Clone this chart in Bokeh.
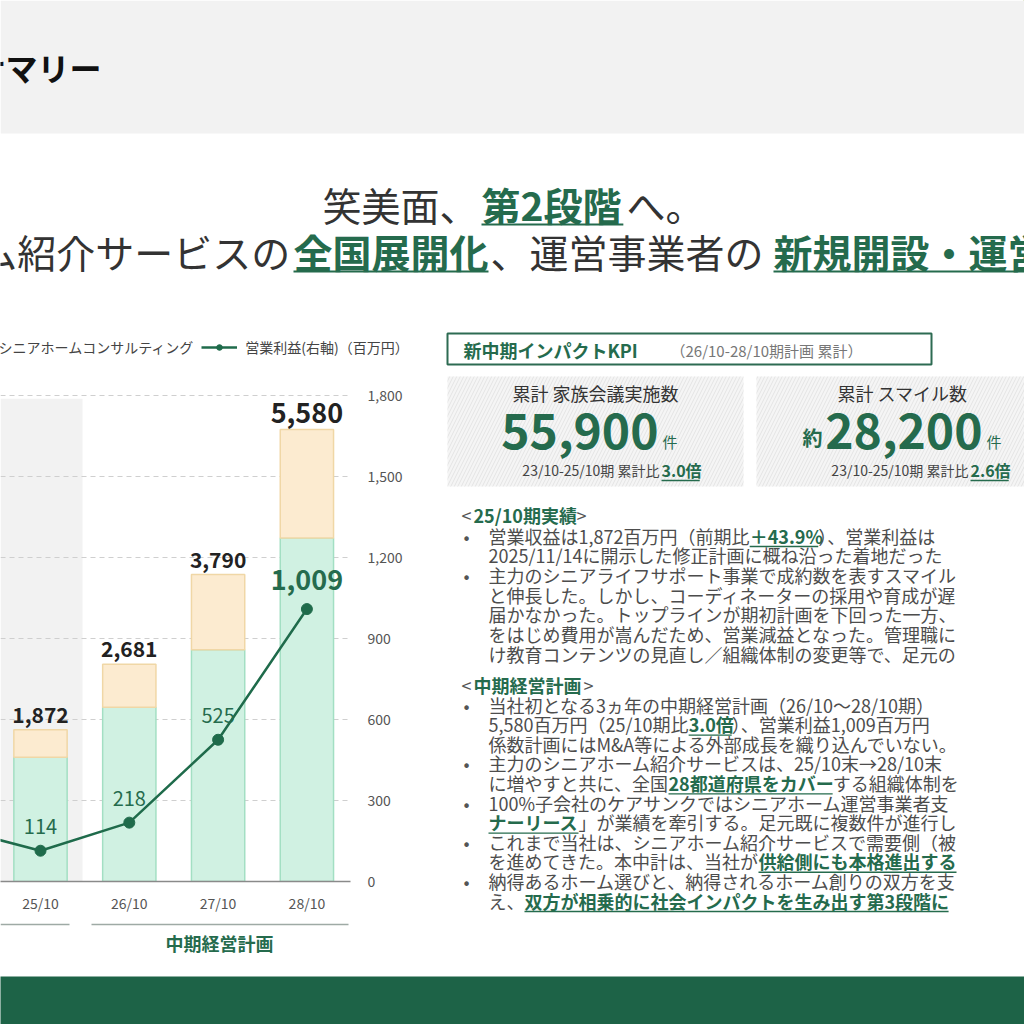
from bokeh.plotting import figure
from bokeh.layouts import column, row
from bokeh.models import (ColumnDataSource, Range1d, LinearAxis, FixedTicker, NumeralTickFormatter,
                          BoxAnnotation, Label, Legend, LegendItem)
from bokeh.core.properties import value
from bokeh.embed import file_html
from bokeh.resources import INLINE

# ---------------- data ----------------
all_periods = ["24/10", "25/10", "26/10", "27/10", "28/10"]
bar_periods = ["25/10", "26/10", "27/10", "28/10"]
referral = [1535, 2150, 2860, 4240]        # シニアホーム紹介 (百万円)
consulting = [337, 531, 930, 1340]         # シニアホームコンサルティング (百万円)
revenue_total = [1872, 2681, 3790, 5580]   # 営業収益 (百万円)
op_profit = [200, 114, 218, 525, 1009]     # 営業利益 (右軸, 百万円)
right_ticks = [0, 300, 600, 900, 1200, 1500, 1800]
left_max = 6000
series_names = ["シニアホーム紹介", "シニアホームコンサルティング", "営業利益(右軸)（百万円）"]

FONT = "Noto Sans CJK JP"
GREEN = "#1f6b4b"
GREEN_T = "#256b4d"
GRAY_T = "#4d4d4d"
MINT, MINT_L = "#d0f1e2", "#a3dfc3"
BEIGE, BEIGE_L = "#fcebd0", "#f0d7a6"
BAND = "#1d6347"

# ---------------- layout geometry (page px) ----------------
W = 1024
TOP_H = 366          # headline strip incl. legend and KPI title
LEFT_W = 438         # chart column width
FRAME_R = 350        # chart frame right edge
BASE_Y = 881         # chart baseline (page y)
BORDER_B = 40
CHART_H = BASE_Y - TOP_H + BORDER_B
BRACKET_H = 55
BAND_H = W - TOP_H - CHART_H - BRACKET_H
RIGHT_W = W - LEFT_W
RIGHT_H = CHART_H + BRACKET_H
PX_PER_STEP = 81
plot_px = PX_PER_STEP * (len(right_ticks) - 1)
frame_h = BASE_Y - TOP_H
right_max = right_ticks[-1]


def deco_fig(w, h, bg="white", frame_w=None):
    fw = w if frame_w is None else frame_w
    f = figure(width=w, height=h, output_backend="svg", toolbar_location=None,
               x_range=Range1d(0, fw), y_range=Range1d(h, 0),
               x_axis_location=None, y_axis_location=None, min_border=0,
               min_border_right=w - fw,
               background_fill_color=bg, border_fill_color=bg, outline_line_color=None)
    f.xgrid.visible = False
    f.ygrid.visible = False
    return f


def tw(s, size):
    w = 0.0
    for c in s:
        if c.isdigit():
            w += 0.56
        elif c in ",.":
            w += 0.27
        elif c == "/":
            w += 0.37
        elif c == "-":
            w += 0.35
        elif c == "%":
            w += 0.86
        elif c == "&":
            w += 0.67
        elif c == " ":
            w += 0.23
        elif c in "()":
            w += 0.33
        elif ord(c) < 128:
            w += 0.62
        else:
            w += 1.0
    return w * size


class Deco:
    """Places slide texts / boxes given page-pixel positions."""

    def __init__(self, fig, ox, oy):
        self.f, self.ox, self.oy = fig, ox, oy

    def lab(self, rx, ry, text, size, color=GRAY_T, bold=False, align="left"):
        self.f.add_layout(Label(x=rx - self.ox, y=ry - self.oy, text=text, text_font=FONT,
                                text_font_size=f"{size}px", text_font_style="bold" if bold else "normal",
                                text_color=color, text_align=align, text_baseline="middle"))

    def rect(self, rx0, rx1, ry0, ry1, fill, line=None, lw=0, hatch=None, level="underlay"):
        kw = dict(left=rx0 - self.ox, right=rx1 - self.ox, top=ry0 - self.oy, bottom=ry1 - self.oy,
                  fill_color=fill, fill_alpha=1.0, level=level)
        if line:
            kw.update(line_color=line, line_width=lw, line_alpha=1)
        else:
            kw.update(line_alpha=0)
        if hatch:
            kw.update(hatch_pattern="/", hatch_color=hatch, hatch_scale=7, hatch_weight=1, hatch_alpha=1)
        self.f.add_layout(BoxAnnotation(**kw))

    def uline(self, rx0, rx1, ry, color=GREEN_T, th=1.6):
        self.rect(rx0, rx1, ry - th / 2, ry + th / 2, color, level="annotation")


# ================= chart figure =================
x0 = 1 - 40 / 88.8
p = figure(width=LEFT_W, height=CHART_H, output_backend="svg", toolbar_location=None,
           x_range=Range1d(x0, x0 + FRAME_R / 88.8),
           y_range=Range1d(0, left_max * frame_h / plot_px),
           y_axis_location=None,
           min_border_left=0, min_border_right=LEFT_W - FRAME_R,
           min_border_top=0, min_border_bottom=BORDER_B,
           background_fill_color="white", border_fill_color="white", outline_line_color=None)
p.extra_y_ranges = {"op": Range1d(0, right_max * frame_h / plot_px)}

p.xgrid.visible = False
p.ygrid.ticker = FixedTicker(ticks=[t * left_max / right_max for t in right_ticks[1:]])
p.ygrid.grid_line_color = "#cfcfcf"
p.ygrid.grid_line_dash = "5 4"
p.ygrid.grid_line_width = 1

p.xaxis.ticker = FixedTicker(ticks=[all_periods.index(q) for q in bar_periods])
p.xaxis.major_label_overrides = {all_periods.index(q): q for q in bar_periods}
p.xaxis.axis_line_color = "#8a8a8a"
p.xaxis.axis_line_width = 1.5
p.xaxis.major_tick_line_color = None
p.xaxis.major_tick_out = 0
p.xaxis.major_tick_in = 0
p.xaxis.minor_tick_line_color = None
p.xaxis.major_label_text_font = FONT
p.xaxis.major_label_text_font_size = "14px"
p.xaxis.major_label_text_color = "#555555"
p.xaxis.major_label_standoff = 11

ra = LinearAxis(y_range_name="op", ticker=FixedTicker(ticks=right_ticks),
                formatter=NumeralTickFormatter(format="0,0"))
ra.axis_line_color = None
ra.major_tick_line_color = None
ra.major_tick_out = 0
ra.major_tick_in = 0
ra.minor_tick_line_color = None
ra.major_label_text_font = FONT
ra.major_label_text_font_size = "14px"
ra.major_label_text_color = "#555555"
ra.major_label_standoff = 17
p.add_layout(ra, "right")

p.add_layout(BoxAnnotation(right=x0 + 82 / 88.8, top=5960, bottom=0, fill_color="#f2f2f2", fill_alpha=1,
                           line_alpha=0, level="image"))

bar_src = ColumnDataSource(dict(
    x=[all_periods.index(q) for q in bar_periods],
    referral=referral, consulting=consulting, total=revenue_total,
    label=[f"{v:,}" for v in revenue_total],
    size=["21px"] * (len(revenue_total) - 1) + ["27px"],
))
bars = p.vbar_stack(["referral", "consulting"], x="x", width=0.6, source=bar_src,
                    fill_color=[MINT, BEIGE], line_color=[MINT_L, BEIGE_L], line_width=1.5)
p.text(x="x", y="total", text="label", source=bar_src, text_font=value(FONT), text_font_size="size",
       text_font_style="bold", text_color="#222222", text_align="center", text_baseline="bottom",
       y_offset=-7)

prof_src = ColumnDataSource(dict(x=list(range(len(all_periods))), y=op_profit))
pl = p.line("x", "y", source=prof_src, y_range_name="op", line_color=GREEN, line_width=2.5)
ps = p.scatter("x", "y", source=prof_src, y_range_name="op", size=11, fill_color=GREEN, line_color=GREEN)
lab_src = ColumnDataSource(dict(
    x=[all_periods.index(q) for q in bar_periods],
    y=op_profit[1:],
    label=[f"{v:,}" for v in op_profit[1:]],
    size=["20px"] * 3 + ["27px"],
    style=["normal"] * 3 + ["bold"],
    off=[-17] * 3 + [-19],
))
p.text(x="x", y="y", text="label", source=lab_src, y_range_name="op", text_font=value(FONT),
       text_font_size="size", text_font_style="style", text_color=GREEN_T, text_align="center",
       text_baseline="bottom", y_offset="off")

# ================= headline strip (title, headline, legend, KPI title) =================
top = deco_fig(W, TOP_H)
A = Deco(top, 0, 0)
A.rect(0, W, 0, 133, "#f2f2f2")
A.lab(101, 66, "サマリー", 32, "#111111", bold=True, align="right")
HS = 39
A.lab(322, 203, "笑美面、", HS, "#333333")
A.lab(481, 203, "第2段階", HS, GREEN_T, bold=True)
A.uline(481, 481 + tw("第2段階", HS) + 3, 224, th=2)
A.lab(626, 203, "へ。", HS, "#333333")
A.lab(291, 250, "シニアホーム紹介サービスの", HS, "#333333", align="right")
A.lab(293, 250, "全国展開化", HS, GREEN_T, bold=True)
A.uline(293, 293 + tw("全国展開化", HS), 271, th=2)
A.lab(490, 250, "、運営事業者の", HS, "#333333")
A.lab(773, 250, "新規開設・運営", HS, GREEN_T, bold=True)
A.uline(773, W, 271, th=2)

# legend: the chart's series re-drawn in this strip on ranges that keep them out of view,
# so that the library draws the legend swatches from real renderers
top.extra_x_ranges = {"off": Range1d(-20, -10)}
top.extra_y_ranges = {"off": Range1d(-20, -10), "off2": Range1d(-20, -10)}
lg = top.vbar_stack(["referral", "consulting"], x="x", width=0.6, source=bar_src,
                    x_range_name="off", y_range_name="off",
                    fill_color=[MINT, BEIGE], line_color=[MINT_L, BEIGE_L], line_width=1.5)
lgl = top.line("x", "y", source=prof_src, x_range_name="off", y_range_name="off2",
               line_color=GREEN, line_width=2.5)
lgs = top.scatter("x", "y", source=prof_src, x_range_name="off", y_range_name="off2",
                  size=9, fill_color=GREEN, line_color=GREEN)
legend = Legend(items=[LegendItem(label=series_names[0], renderers=[lg[0]]),
                       LegendItem(label=series_names[1], renderers=[lg[1]]),
                       LegendItem(label=series_names[2], renderers=[lgl, lgs])],
                orientation="horizontal", location=(-209, TOP_H - 357),
                label_text_font=FONT, label_text_font_size="14px", label_text_color="#444444",
                glyph_width=36, glyph_height=14, label_height=14, label_standoff=8, spacing=8,
                padding=0, margin=0, border_line_alpha=0, background_fill_alpha=0)
top.add_layout(legend)

A.rect(447, 931, 333, 364, "white", line="#2d6b52", lw=2)
A.lab(463, 349, "新中期インパクトKPI", 18, GREEN_T, bold=True)
A.lab(670, 350, "（26/10-28/10期計画 累計）", 15, "#777777")

# ================= bracket strip under the chart (frame aligned with chart frame) =================
bot = deco_fig(LEFT_W, BRACKET_H, frame_w=FRAME_R)
C = Deco(bot, 0, TOP_H + CHART_H)
C.rect(0, 69, 923.3, 924.7, "#9eaaa5", level="annotation")
C.rect(91, 348, 923.3, 924.7, "#9eaaa5", level="annotation")
C.lab(219, 942, "中期経営計画", 18, GREEN_T, bold=True, align="center")

# ================= bottom band =================
band = deco_fig(W, BAND_H, bg=BAND)

# ================= right text panel =================
rt = deco_fig(RIGHT_W, RIGHT_H)
D = Deco(rt, LEFT_W, TOP_H)

D.rect(447, 743, 376, 486, "#f5f5f5", hatch="#e4e4e4")
D.rect(756, W + 5, 376, 486, "#f5f5f5", hatch="#e4e4e4")
D.lab(595, 392, "累計 家族会議実施数", 18, "#333333", align="center")
D.lab(658, 430, "55,900", 48, GREEN_T, bold=True, align="right")
D.lab(662, 441, "件", 15, GREEN_T)
D.lab(659, 469, "23/10-25/10期 累計比", 14, "#444444", align="right")
D.lab(661, 469, "3.0倍", 16, GREEN_T, bold=True)
D.uline(661, 661 + tw("3.0倍", 16), 480)
D.lab(902, 392, "累計 スマイル数", 18, "#333333", align="center")
D.lab(822, 437, "約", 20, GREEN_T, bold=True, align="right")
D.lab(982, 430, "28,200", 48, GREEN_T, bold=True, align="right")
D.lab(986, 441, "件", 15, GREEN_T)
D.lab(968, 469, "23/10-25/10期 累計比", 14, "#444444", align="right")
D.lab(970, 469, "2.6倍", 16, GREEN_T, bold=True)
D.uline(970, 970 + tw("2.6倍", 16), 480)

BS = 18
TX = 488


def header(ry, text):
    D.lab(461, ry, "<", BS, "#555555")
    D.lab(473, ry, text, BS, GREEN_T, bold=True)
    D.lab(473 + tw(text, BS) + 2, ry, ">", BS, "#555555")


def body_line(ry, segs, bullet=False):
    if bullet:
        D.lab(466, ry, "•", BS, "#555555", align="center")
    x = TX
    for text, kind in segs:
        if kind == "n":
            D.lab(x, ry, text, BS, GRAY_T)
        else:
            D.lab(x, ry, text, BS, GREEN_T, bold=True)
            if kind == "bu":
                D.uline(x, x + tw(text, BS), ry + 11, th=1.4)
        x += tw(text, BS)


header(514, "25/10期実績")
sec1 = [
    ([("営業収益は1,872百万円（前期比", "n"), ("＋43.9%", "bu"), ("）、営業利益は", "n")], True),
    ([("2025/11/14に開示した修正計画に概ね沿った着地だった", "n")], False),
    ([("主力のシニアライフサポート事業で成約数を表すスマイル", "n")], True),
    ([("と伸長した。しかし、コーディネーターの採用や育成が遅", "n")], False),
    ([("届かなかった。トップラインが期初計画を下回った一方、", "n")], False),
    ([("をはじめ費用が嵩んだため、営業減益となった。管理職に", "n")], False),
    ([("け教育コンテンツの見直し／組織体制の変更等で、足元の", "n")], False),
]
for i, (segs, b) in enumerate(sec1):
    body_line(535 + i * 19.7, segs, b)

header(684, "中期経営計画")
sec2 = [
    ([("当社初となる3ヵ年の中期経営計画（26/10～28/10期）", "n")], True),
    ([("5,580百万円（25/10期比", "n"), ("3.0倍", "bu"), ("）、営業利益1,009百万円", "n")], False),
    ([("係数計画にはM&A等による外部成長を織り込んでいない。", "n")], False),
    ([("主力のシニアホーム紹介サービスは、25/10末→28/10末", "n")], True),
    ([("に増やすと共に、全国", "n"), ("28都道府県をカバー", "bu"), ("する組織体制を", "n")], False),
    ([("100%子会社のケアサンクではシニアホーム運営事業者支", "n")], True),
    ([("ナーリース", "bu"), ("」が業績を牽引する。足元既に複数件が進行し", "n")], False),
    ([("これまで当社は、シニアホーム紹介サービスで需要側（被", "n")], True),
    ([("を進めてきた。本中計は、当社が", "n"), ("供給側にも本格進出する", "bu")], False),
    ([("納得あるホーム選びと、納得されるホーム創りの双方を支", "n")], True),
    ([("え、", "n"), ("双方が相乗的に社会インパクトを生み出す第3段階に", "bu")], False),
]
for i, (segs, b) in enumerate(sec2):
    body_line(704 + i * 19.6, segs, b)

layout = column(top, row(column(p, bot, spacing=0), rt, spacing=0), band, spacing=0)
open("out.html", "w").write(file_html(layout, INLINE))
